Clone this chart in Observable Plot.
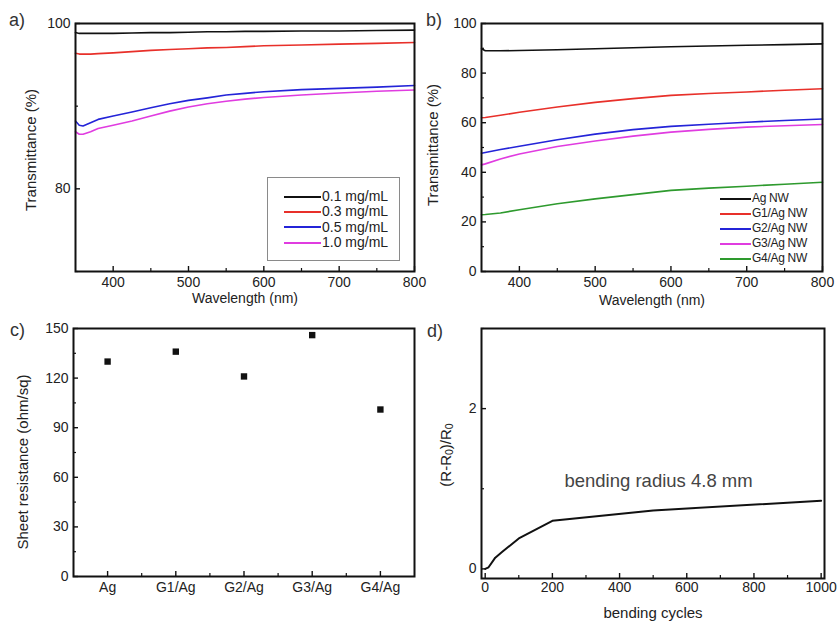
<!DOCTYPE html>
<html>
<head>
<meta charset="utf-8">
<script src="https://cdn.jsdelivr.net/npm/d3@7"></script>
<script src="https://cdn.jsdelivr.net/npm/@observablehq/plot@0.6"></script>
<style>
  html, body { margin: 0; padding: 0; background: #fff; }
  #root { position: relative; width: 838px; height: 621px; background: #fff; overflow: hidden;
          font-family: "Liberation Sans", Arial, sans-serif; color: #222; }
  .plab { position: absolute; font-size: 18px; color: #333; }
  .atitle { position: absolute; white-space: nowrap; color: #222; line-height: 1; }
  .legend { position: absolute; font-family: "Liberation Sans", Arial, sans-serif; }
  .legend .sw { position: absolute; height: 2px; }
  .legend .tx { position: absolute; line-height: 1; white-space: nowrap; }
  sub { font-size: 0.7em; vertical-align: -0.25em; line-height: 0; }
</style>
</head>
<body>
<div id="root"></div>
<script>
// ---------- Panel a data ----------
const waveA = [350, 355, 360, 370, 380, 400, 425, 450, 475, 500, 525, 550, 575, 600, 650, 700, 750, 800];
const seriesA = ["0.1 mg/mL", "0.3 mg/mL", "0.5 mg/mL", "1.0 mg/mL"];
const conc01 = [98.9, 98.8, 98.8, 98.8, 98.8, 98.8, 98.85, 98.9, 98.9, 98.95, 99.0, 99.0, 99.05, 99.05, 99.1, 99.1, 99.15, 99.2];
const conc03 = [96.4, 96.3, 96.3, 96.3, 96.35, 96.45, 96.6, 96.75, 96.85, 96.95, 97.05, 97.1, 97.2, 97.3, 97.4, 97.5, 97.6, 97.7];
const conc05 = [88.2, 87.7, 87.6, 88.0, 88.4, 88.8, 89.3, 89.8, 90.3, 90.7, 91.0, 91.35, 91.55, 91.75, 92.0, 92.15, 92.3, 92.5];
const conc10 = [86.9, 86.6, 86.6, 86.9, 87.3, 87.7, 88.2, 88.8, 89.4, 89.9, 90.3, 90.6, 90.85, 91.05, 91.35, 91.6, 91.8, 91.95];
const colorsA = ["#111111", "#e8302a", "#2424d8", "#e03ce0"];
const yTicksA = [80, 100], yMinorA = [70, 90];

// ---------- Panel b data ----------
const waveB = [350, 355, 375, 400, 450, 500, 550, 600, 650, 700, 750, 800];
const seriesB = ["Ag NW", "G1/Ag NW", "G2/Ag NW", "G3/Ag NW", "G4/Ag NW"];
const agNW  = [89.8, 89.0, 89.0, 89.1, 89.4, 89.8, 90.2, 90.6, 90.9, 91.2, 91.5, 91.8];
const g1AgNW = [62.0, 62.1, 63.0, 64.2, 66.3, 68.2, 69.7, 71.0, 71.8, 72.4, 73.1, 73.7];
const g2AgNW = [47.7, 48.0, 49.2, 50.5, 53.1, 55.4, 57.2, 58.5, 59.4, 60.2, 60.9, 61.5];
const g3AgNW = [43.0, 43.4, 45.4, 47.4, 50.4, 52.6, 54.6, 56.2, 57.3, 58.2, 58.8, 59.3];
const g4AgNW = [22.9, 23.0, 23.6, 24.9, 27.3, 29.3, 31.0, 32.7, 33.6, 34.4, 35.2, 36.0];
const colorsB = ["#111111", "#e8302a", "#2424d8", "#e03ce0", "#2e9a2e"];
const yTicksB = [0, 20, 40, 60, 80, 100], yMinorB = [10, 30, 50, 70, 90];

const xTicksW = [400, 500, 600, 700, 800], xMinorW = [450, 550, 650, 750];

// ---------- Panel c data ----------
const samplesC = ["Ag", "G1/Ag", "G2/Ag", "G3/Ag", "G4/Ag"];
const sheetRes = [130, 136, 121, 146, 101];
const yTicksC = [0, 30, 60, 90, 120, 150], yMinorC = [15, 45, 75, 105, 135];

// ---------- Panel d data ----------
const cycles = [0, 10, 30, 50, 100, 200, 500, 1000];
const relRes = [0, 0.02, 0.14, 0.21, 0.38, 0.60, 0.73, 0.85];
const xTicksD = [0, 200, 400, 600, 800, 1000], xMinorD = [100, 300, 500, 700, 900];
const yTicksD = [0, 2], yMinorD = [1, 3];
const notesD = [{x: 516, y: 1.10, text: "bending radius 4.8 mm"}];

// ---------- helpers ----------
const root = document.getElementById("root");
const INK = "#111";
const intFmt = d3.format("d");
function place(node, left, top) {
  node.style.position = "absolute";
  node.style.left = left + "px";
  node.style.top = top + "px";
  root.append(node);
}
const baseStyle = {fontFamily: "Liberation Sans, Arial, sans-serif", fontSize: "14px", color: "#222", overflow: "visible", background: "transparent"};
function tickMarksX(major, minor, ph) {
  return [
    Plot.ruleX(major, {x: d => d, insetTop: ph - 5, stroke: INK, strokeWidth: 1.4}),
    Plot.ruleX(minor, {x: d => d, insetTop: ph - 3, stroke: INK, strokeWidth: 1.2})
  ];
}
function tickMarksY(major, minor, pw) {
  return [
    Plot.ruleY(major, {y: d => d, insetRight: pw - 5, stroke: INK, strokeWidth: 1.4}),
    Plot.ruleY(minor, {y: d => d, insetRight: pw - 3, stroke: INK, strokeWidth: 1.2})
  ];
}
function label(text, left, top) {
  const d = document.createElement("div");
  d.className = "plab";
  d.textContent = text;
  place(d, left, top);
}
function title(html, cx, cy, size, rotate) {
  const d = document.createElement("div");
  d.className = "atitle";
  d.innerHTML = html;
  d.style.fontSize = size + "px";
  d.style.transform = "translate(-50%, -50%)" + (rotate ? " rotate(-90deg)" : "");
  place(d, cx, cy);
}
function legend(left, top, items, colors, opts) {
  const box = document.createElement("div");
  box.className = "legend";
  box.style.width = opts.w + "px";
  box.style.height = opts.h + "px";
  if (opts.border) { box.style.border = "1px solid #8a8a8a"; box.style.boxSizing = "border-box"; }
  items.forEach((t, i) => {
    const sw = document.createElement("div");
    sw.className = "sw";
    sw.style.left = opts.lx + "px";
    sw.style.width = opts.lw + "px";
    sw.style.top = (opts.y0 + i * opts.dy - 1) + "px";
    sw.style.background = colors[i];
    box.append(sw);
    const tx = document.createElement("div");
    tx.className = "tx";
    tx.textContent = t;
    tx.style.left = (opts.lx + opts.lw + 1) + "px";
    tx.style.top = (opts.y0 + i * opts.dy - opts.fs * 0.55) + "px";
    tx.style.fontSize = opts.fs + "px";
    tx.style.color = "#222";
    if (opts.ls) tx.style.letterSpacing = opts.ls + "px";
    box.append(tx);
  });
  place(box, left, top);
}

// ---------- Panel a ----------
{
  const W = 419, H = 310, m = {t: 23, r: 5, b: 39, l: 75};
  const pw = W - m.l - m.r, ph = H - m.t - m.b;
  const vals = [conc01, conc03, conc05, conc10];
  const rows = seriesA.flatMap((s, i) => waveA.map((w, j) => ({s, w, t: vals[i][j]})));
  const chart = Plot.plot({
    width: W, height: H, marginTop: m.t, marginRight: m.r, marginBottom: m.b, marginLeft: m.l,
    style: baseStyle,
    x: {domain: [350, 800]},
    y: {domain: [70, 100]},
    color: {domain: seriesA, range: colorsA},
    marks: [
      Plot.line(rows, {x: "w", y: "t", z: "s", stroke: "s", strokeWidth: 1.6}),
      ...tickMarksX(xTicksW, xMinorW, ph),
      ...tickMarksY(yTicksA, yMinorA, pw),
      Plot.axisX({ticks: xTicksW, tickSize: 0, tickPadding: 6, fontSize: 14, label: null}),
      Plot.axisY({ticks: yTicksA, tickSize: 0, tickPadding: 5, fontSize: 14, label: null}),
      Plot.frame({stroke: INK, strokeWidth: 2})
    ]
  });
  place(chart, 0, 0);
  legend(267, 177, seriesA, colorsA, {w: 133, h: 84, border: true, lx: 16, lw: 37, y0: 18.5, dy: 15.4, fs: 14});
}

// ---------- Panel b ----------
{
  const W = 419, H = 310, m = {t: 23, r: 16, b: 39, l: 62};
  const pw = W - m.l - m.r, ph = H - m.t - m.b;
  const vals = [agNW, g1AgNW, g2AgNW, g3AgNW, g4AgNW];
  const rows = seriesB.flatMap((s, i) => waveB.map((w, j) => ({s, w, t: vals[i][j]})));
  const chart = Plot.plot({
    width: W, height: H, marginTop: m.t, marginRight: m.r, marginBottom: m.b, marginLeft: m.l,
    style: baseStyle,
    x: {domain: [350, 800]},
    y: {domain: [0, 100]},
    color: {domain: seriesB, range: colorsB},
    marks: [
      Plot.line(rows, {x: "w", y: "t", z: "s", stroke: "s", strokeWidth: 1.6}),
      ...tickMarksX(xTicksW, xMinorW, ph),
      ...tickMarksY(yTicksB, yMinorB, pw),
      Plot.axisX({ticks: xTicksW, tickSize: 0, tickPadding: 6, fontSize: 14, label: null}),
      Plot.axisY({ticks: yTicksB, tickSize: 0, tickPadding: 5, fontSize: 14, label: null}),
      Plot.frame({stroke: INK, strokeWidth: 2})
    ]
  });
  place(chart, 419, 0);
  legend(718, 190, seriesB, colorsB, {w: 110, h: 80, border: false, lx: 2, lw: 31, y0: 9, dy: 15, fs: 12, ls: -0.3});
}

// ---------- Panel c ----------
{
  const W = 419, H = 311, m = {t: 18, r: 5, b: 45, l: 73};
  const pw = W - m.l - m.r, ph = H - m.t - m.b;
  const rows = samplesC.map((s, i) => ({i, s, v: sheetRes[i]}));
  const idx = samplesC.map((_, i) => i);
  const mid = idx.slice(0, -1).map(i => i + 0.5);
  const chart = Plot.plot({
    width: W, height: H, marginTop: m.t, marginRight: m.r, marginBottom: m.b, marginLeft: m.l,
    style: baseStyle,
    x: {domain: [-0.5, samplesC.length - 0.5]},
    y: {domain: [0, 150]},
    marks: [
      Plot.dot(rows, {x: "i", y: "v", symbol: "square", r: 3.6, fill: INK, stroke: null}),
      ...tickMarksX(idx, mid, ph),
      ...tickMarksY(yTicksC, yMinorC, pw),
      Plot.axisX({ticks: idx, tickFormat: i => samplesC[i], tickSize: 0, tickPadding: 6, fontSize: 14, label: null}),
      Plot.axisY({ticks: yTicksC, tickSize: 0, tickPadding: 5, fontSize: 14, label: null}),
      Plot.frame({stroke: INK, strokeWidth: 2})
    ]
  });
  place(chart, 0, 310);
}

// ---------- Panel d ----------
{
  const W = 419, H = 311, m = {t: 18, r: 14, b: 43, l: 62};
  const pw = W - m.l - m.r, ph = H - m.t - m.b;
  const rows = cycles.map((c, i) => ({c, v: relRes[i]}));
  const chart = Plot.plot({
    width: W, height: H, marginTop: m.t, marginRight: m.r, marginBottom: m.b, marginLeft: m.l,
    style: baseStyle,
    x: {domain: [-11, 1010]},
    y: {domain: [-0.12, 3]},
    marks: [
      Plot.line(rows, {x: "c", y: "v", stroke: INK, strokeWidth: 2}),
      Plot.text(notesD, {x: "x", y: "y", text: "text", fontSize: 18.5, fill: "#444"}),
      ...tickMarksX(xTicksD, xMinorD, ph),
      ...tickMarksY(yTicksD, yMinorD, pw),
      Plot.axisX({ticks: xTicksD, tickFormat: intFmt, tickSize: 0, tickPadding: 4, fontSize: 14, label: null}),
      Plot.axisY({ticks: yTicksD, tickFormat: intFmt, tickSize: 0, tickPadding: 5, fontSize: 14, label: null}),
      Plot.frame({stroke: INK, strokeWidth: 2})
    ]
  });
  place(chart, 419, 310);
}

// axis titles
title("Transmittance (%)", 30, 150, 15, true);
title("Wavelength (nm)", 245, 298, 14, false);
title("Transmittance (%)", 432, 145, 15, true);
title("Wavelength (nm)", 652, 300, 14, false);
title("Sheet resistance (ohm/sq)", 22, 462, 15, true);
title("(R-R<sub>0</sub>)/R<sub>0</sub>", 445, 455, 15, true);
title("bending cycles", 653, 612, 15, false);

label("a)", 9, 10);
label("b)", 426, 10);
label("c)", 10, 320);
label("d)", 427, 321);
</script>
</body>
</html>
